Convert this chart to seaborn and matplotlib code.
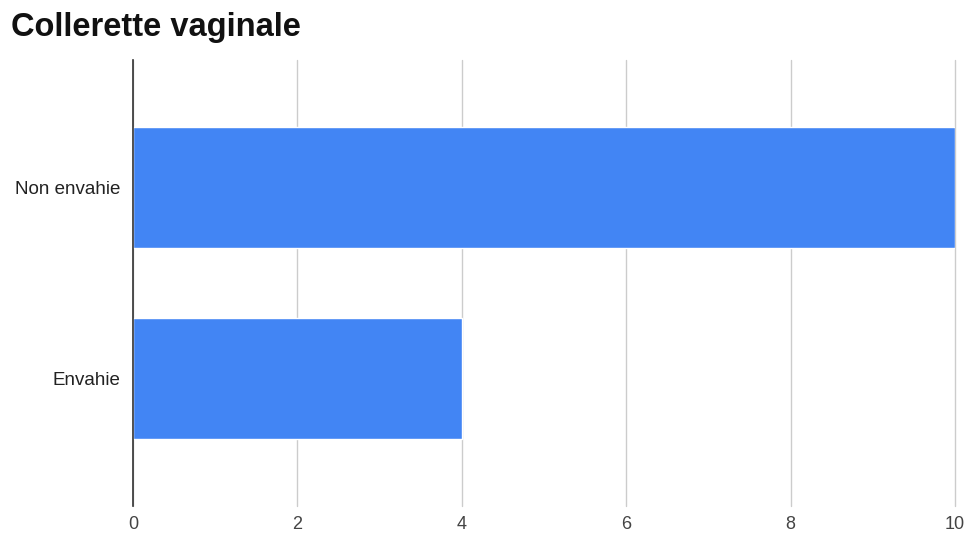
import matplotlib
matplotlib.use("Agg")
import matplotlib.pyplot as plt
import seaborn as sns
import pandas as pd

categories = ["Non envahie", "Envahie"]
values = [10, 4]
xticks = [0, 2, 4, 6, 8, 10]
title = "Collerette vaginale"

sns.set_theme(style="white")
plt.rcParams['font.family'] = ['Liberation Sans', 'DejaVu Sans']

df = pd.DataFrame({"cat": categories, "val": values})

fig = plt.figure(figsize=(9.71, 5.33), dpi=100)
ax = fig.add_axes([133/971, 1-506/533, (955-133)/971, (506-60)/533])

sns.barplot(data=df, x="val", y="cat", orient="h", color="#4285F4",
            saturation=1, width=0.635, ax=ax)

ax.set_xlim(0, 10)
ax.set_ylim(1.67, -0.67)
ax.set_xticks(xticks)
ax.set_xticklabels([str(t) for t in xticks], fontsize=13, color="#444444")
ax.tick_params(axis="y", labelsize=13.5, labelcolor="#222222", length=0, pad=9)
ax.tick_params(axis="x", length=0, pad=7)
ax.set_xlabel("")
ax.set_ylabel("")
ax.grid(axis="x", color="#cccccc", linewidth=1)
for gl in ax.get_xgridlines():
    gl.set_clip_on(False)
ax.set_axisbelow(True)
for s in ["top", "right", "bottom"]:
    ax.spines[s].set_visible(False)
ax.spines["left"].set_color("#333333")
ax.spines["left"].set_linewidth(1.2)
ax.spines["left"].set_zorder(5)

fig.text(11/971, 1-36/533, title, fontsize=23.5, fontweight="bold", color="#111111",
         ha="left", va="baseline")

fig.savefig("out.png", dpi=100)
